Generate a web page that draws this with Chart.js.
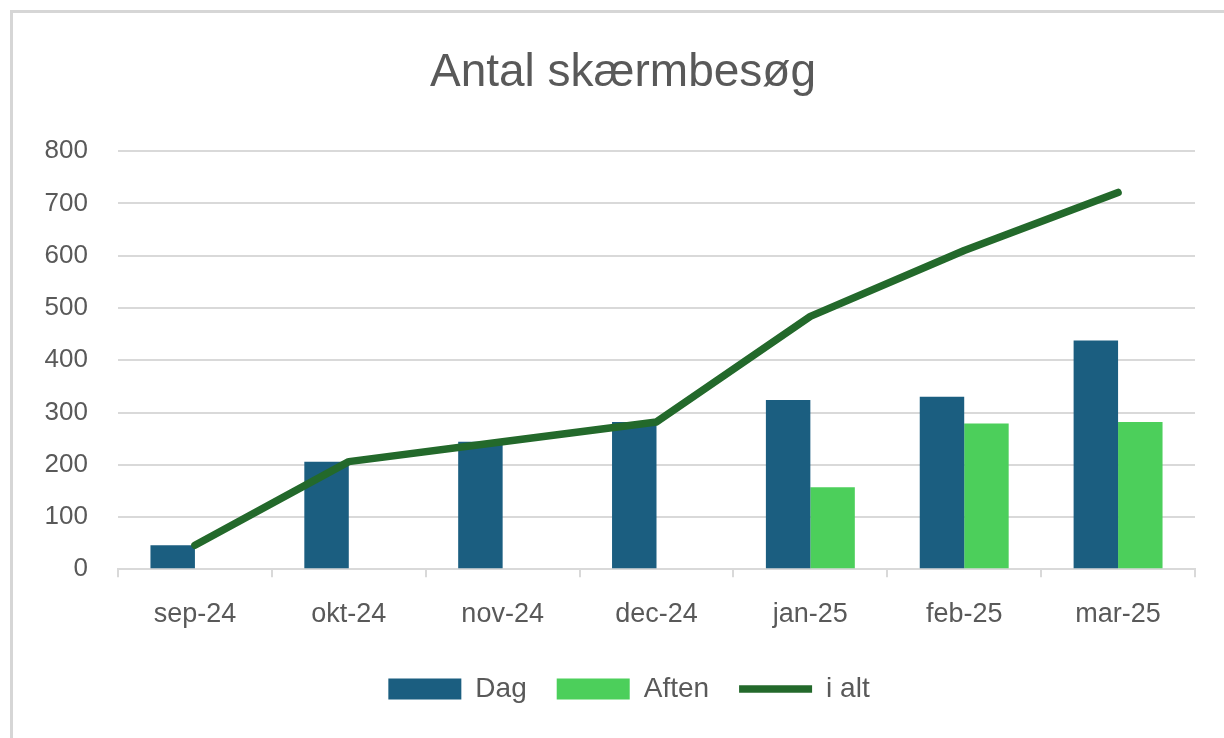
<!DOCTYPE html>
<html>
<head>
<meta charset="utf-8">
<script src="https://cdn.jsdelivr.net/npm/chart.js@4"></script>
<style>
  body { margin: 0; background: #fff; }
  #frame {
    position: absolute; left: 10px; top: 10px;
    width: 1211px; height: 725px;
    border-top: 3px solid #d6d6d6; border-left: 3px solid #d6d6d6;
  }
  canvas { display: block; }
</style>
</head>
<body>
<div id="frame"><canvas id="chart" width="1211" height="725"></canvas></div>
<script>
// data
const months = ["sep-24", "okt-24", "nov-24", "dec-24", "jan-25", "feb-25", "mar-25"];
const dag = [46, 206, 244, 282, 324, 330, 438];
const aften = [null, null, null, null, 157, 279, 282];
const iAlt = [46, 206, 244, 282, 484, 610, 721];

const txt = "#595959";
const grid = "#d9d9d9";
const font = "'Liberation Sans', Arial, sans-serif";

// nudge title + legend a bit to the right, like the original
const nudge = {
    id: "nudge",
    afterLayout(chart) {
        chart.titleBlock.left += 19; chart.titleBlock.right += 19;
        chart.legend.left += 25; chart.legend.right += 25;
    }
};

new Chart(document.getElementById("chart"), {
    type: "bar",
    data: {
        labels: months,
        datasets: [
            { label: "Dag", data: dag, backgroundColor: "#1b5e80", order: 1,
              categoryPercentage: 0.578, barPercentage: 1.0, pointStyle: "rect" },
            { label: "Aften", data: aften, backgroundColor: "#4ccf5b", order: 1,
              categoryPercentage: 0.578, barPercentage: 1.0, pointStyle: "rect" },
            { label: "i alt", type: "line", data: iAlt, borderColor: "#23692b",
              backgroundColor: "#23692b", borderWidth: 7.5, pointRadius: 0,
              pointStyle: "line", borderCapStyle: "round", borderJoinStyle: "round",
              order: 0, tension: 0 }
        ]
    },
    options: {
        responsive: false,
        animation: false,
        layout: { padding: { left: 0, right: 29, top: 0, bottom: 25 } },
        plugins: {
            title: {
                display: true, text: "Antal skærmbesøg", color: txt,
                font: { family: font, size: 46, weight: "normal" },
                padding: { top: 33, bottom: 50 }
            },
            legend: {
                position: "bottom",
                labels: {
                    color: txt, usePointStyle: true, pointStyleWidth: 73,
                    boxHeight: 21, padding: 30,
                    font: { family: font, size: 28 },
                    sort: (a, b) => a.datasetIndex - b.datasetIndex
                }
            },
            tooltip: { enabled: false }
        },
        scales: {
            x: {
                grid: { display: true, drawOnChartArea: false, drawTicks: true,
                        tickLength: 8, color: grid, lineWidth: 2, offset: true },
                border: { display: true, color: grid, width: 2 },
                ticks: { color: txt, font: { family: font, size: 27 }, padding: 21,
                         maxRotation: 0, autoSkip: false },
                afterFit: s => { s.height = 75.7; }
            },
            y: {
                min: 0, max: 800,
                grid: { color: grid, lineWidth: 2, drawTicks: false },
                border: { display: false },
                ticks: { stepSize: 100, color: txt, font: { family: font, size: 26 }, padding: 30 },
                afterFit: s => { s.width = 105; }
            }
        }
    },
    plugins: [nudge]
});
</script>
</body>
</html>
